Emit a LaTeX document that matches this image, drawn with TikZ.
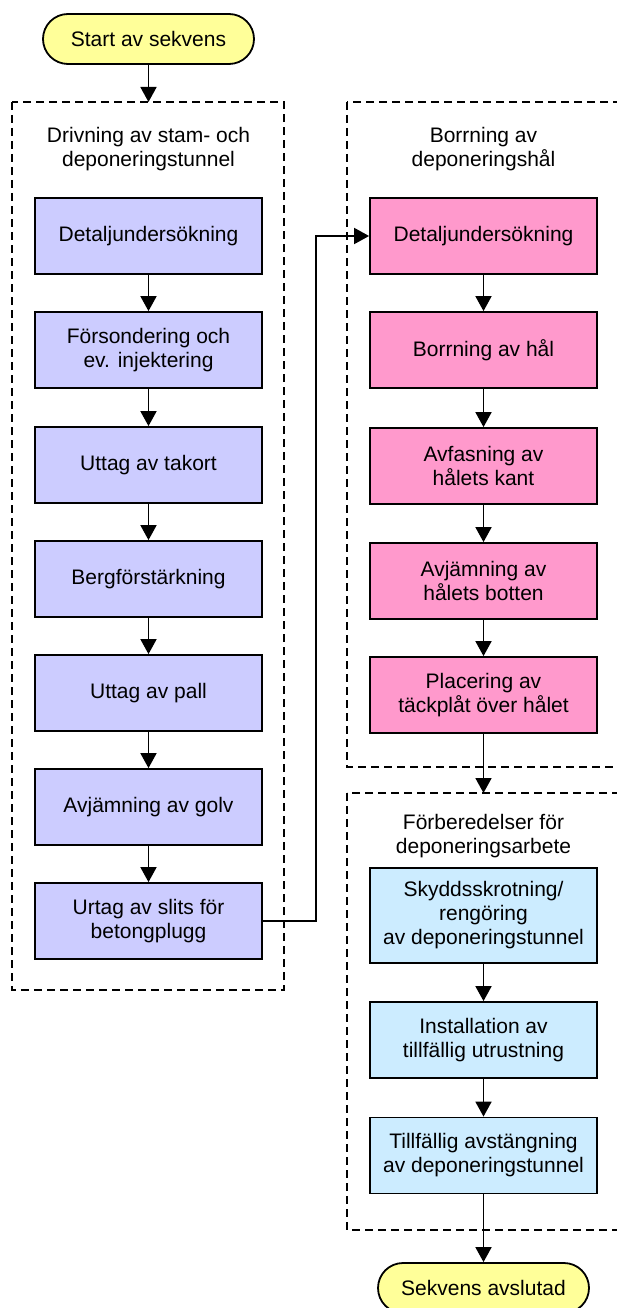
\documentclass[tikz,border=0pt]{standalone}
\usepackage{fontspec}
\setmainfont{Liberation Sans}
\usetikzlibrary{arrows.meta}

\begin{document}
\begin{tikzpicture}[x=1pt,y=-1pt,
  txt/.style={align=center,font=\fontsize{21}{24}\selectfont},
  stepbox/.style={txt,draw,line width=1.8pt,minimum width=227pt,minimum height=76pt,inner sep=0pt},
  drivbox/.style={stepbox,fill=drivfill},
  borrbox/.style={stepbox,fill=borrfill},
  forbbox/.style={stepbox,fill=forbfill},
  term/.style={txt,draw,line width=1.8pt,fill=termfill,rounded corners=25pt,minimum width=211pt,minimum height=50pt},
  group/.style={line width=1.8pt,dash pattern=on 8pt off 5pt},
  flow/.style={line width=1.8pt,-{Triangle[width=16pt,length=15pt]}}]
\definecolor{drivfill}{HTML}{CCCCFF}
\definecolor{borrfill}{HTML}{FF99CC}
\definecolor{forbfill}{HTML}{CCECFF}
\definecolor{termfill}{HTML}{FFFF99}
\useasboundingbox (0,0) rectangle (616,1308);
\draw[group] (12,102) rectangle (284,990);
\draw[group] (347,102) rectangle (625,767);
\draw[group] (347,793) rectangle (625,1230);
\coordinate (drivtop) at (148.5,102);
\coordinate (forbtop) at (483.5,793);
\draw (148.5,39) node[term] (start) {Start av sekvens};
\draw (148.5,149) node[txt] (drivtitle) {Drivning av stam- och\\deponeringstunnel};
\draw (148.5,236) node[drivbox] (d1) {Detaljundersökning};
\draw (148.5,350) node[drivbox] (d2) {Försondering och\\ev. injektering};
\draw (148.5,465) node[drivbox] (d3) {Uttag av takort};
\draw (148.5,579) node[drivbox] (d4) {Bergförstärkning};
\draw (148.5,693) node[drivbox] (d5) {Uttag av pall};
\draw (148.5,807) node[drivbox] (d6) {Avjämning av golv};
\draw (148.5,921) node[drivbox] (d7) {Urtag av slits för\\betongplugg};
\draw (483.5,149) node[txt] (borrtitle) {Borrning av\\deponeringshål};
\draw (483.5,236) node[borrbox] (b1) {Detaljundersökning};
\draw (483.5,350) node[borrbox] (b2) {Borrning av hål};
\draw (483.5,466) node[borrbox] (b3) {Avfasning av\\hålets kant};
\draw (483.5,581) node[borrbox] (b4) {Avjämning av\\hålets botten};
\draw (483.5,695) node[borrbox] (b5) {Placering av\\täckplåt över hålet};
\draw (483.5,836) node[txt] (forbtitle) {Förberedelser för\\deponeringsarbete};
\draw (483.5,915.5) node[forbbox,minimum height=95pt] (f1) {Skyddsskrotning/\\rengöring\\av deponeringstunnel};
\draw (483.5,1040) node[forbbox] (f2) {Installation av\\tillfällig utrustning};
\draw (483.5,1155.5) node[forbbox] (f3) {Tillfällig avstängning\\av deponeringstunnel};
\draw (483.5,1288) node[term] (stop) {Sekvens avslutad};
\draw[flow] (start) -- (drivtop);
\draw[flow] (d1) -- (d2);
\draw[flow] (d2) -- (d3);
\draw[flow] (d3) -- (d4);
\draw[flow] (d4) -- (d5);
\draw[flow] (d5) -- (d6);
\draw[flow] (d6) -- (d7);
\draw[flow] (d7.east) -- (316,921) -- (316,236) -- (b1.west);
\draw[flow] (b1) -- (b2);
\draw[flow] (b2) -- (b3);
\draw[flow] (b3) -- (b4);
\draw[flow] (b4) -- (b5);
\draw[flow] (b5) -- (forbtop);
\draw[flow] (f1) -- (f2);
\draw[flow] (f2) -- (f3);
\draw[flow] (f3) -- (stop);
\end{tikzpicture}
\end{document}
